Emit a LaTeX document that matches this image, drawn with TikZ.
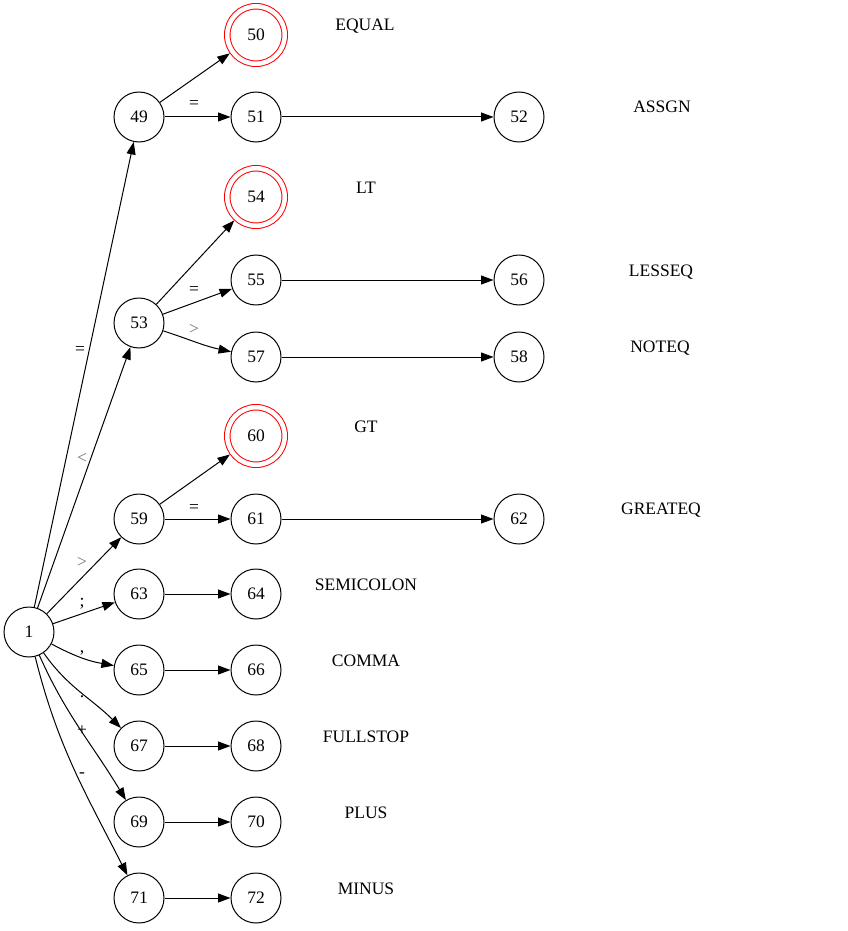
\documentclass[tikz,border=0pt]{standalone}
\usepackage{fontspec}
\setmainfont{Liberation Serif}
\usetikzlibrary{arrows.meta}

\tikzset{
    state/.style={circle, draw, line width=1pt, minimum size=50pt, inner sep=0pt, font=\fontsize{17.5}{20}\selectfont},
    accept/.style={state, draw=red, double=white, double distance=4.5pt, minimum size=57.5pt, outer sep=3.2pt},
    token/.style={anchor=base, inner sep=0pt, font=\fontsize{17.5}{20}\selectfont},
    elbl/.style={anchor=base, inner sep=0pt, font=\fontsize{17.5}{20}\selectfont},
    edge/.style={line width=1pt, -{Triangle[length=12.5pt,width=9pt]}}
}

\begin{document}
\begin{tikzpicture}[x=1pt, y=-1pt]
    \useasboundingbox (0,0) rectangle (847,931);

    % Start state
    \node[state] (n1) at (29,632) {1};

    % Draw = branch
    \node[state] (n49) at (139,117) {49};
    \node[accept] (n50) at (256,35) {50};
    \node[state] (n51) at (256,117) {51};
    \node[state] (n52) at (519,117) {52};
    \node[token] (t50) at (365,31) {EQUAL};
    \node[token] (t52) at (662,113) {ASSGN};
    \draw[edge] (n49) -- (n50);
    \draw[edge] (n49) -- (n51);
    \draw[edge] (n51) -- (n52);
    \node[elbl] (l51) at (194,109) {=};

    % Draw < branch
    \node[state] (n53) at (139,323) {53};
    \node[accept] (n54) at (256,197) {54};
    \node[state] (n55) at (256,280) {55};
    \node[state] (n56) at (519,280) {56};
    \node[state] (n57) at (256,357) {57};
    \node[state] (n58) at (519,357) {58};
    \node[token] (t54) at (366,193) {LT};
    \node[token] (t56) at (661,276) {LESSEQ};
    \node[token] (t58) at (660,352) {NOTEQ};
    \draw[edge] (n53) -- (n54);
    \draw[edge] (n53) -- (n55);
    \draw[edge] (n53) to[out=-18, in=168] (n57);
    \draw[edge] (n55) -- (n56);
    \draw[edge] (n57) -- (n58);
    \node[elbl] (l55) at (194,294) {=};
    \node[elbl, black!55] (l57) at (194,334) {>};

    % Draw > branch
    \node[state] (n59) at (139,519) {59};
    \node[accept] (n60) at (256,436) {60};
    \node[state] (n61) at (256,519) {61};
    \node[state] (n62) at (519,519) {62};
    \node[token] (t60) at (366,432) {GT};
    \node[token] (t62) at (661,514) {GREATEQ};
    \draw[edge] (n59) -- (n60);
    \draw[edge] (n59) -- (n61);
    \draw[edge] (n61) -- (n62);
    \node[elbl] (l61) at (194,512) {=};

    % Draw single character tokens
    \foreach \a/\b/\y/\tok in {63/64/594/SEMICOLON, 65/66/670/COMMA, 67/68/746/FULLSTOP, 69/70/822/PLUS, 71/72/898/MINUS} {
        \node[state] (n\a) at (139,\y) {\a};
        \node[state] (n\b) at (256,\y) {\b};
        \node[token] (t\b) at (366,\y-4) {\tok};
        \draw[edge] (n\a) -- (n\b);
    }

    % Draw edges out of the start state
    \draw[edge] (n1) -- (n49);
    \draw[edge] (n1) -- (n53);
    \draw[edge] (n1) -- (n59);
    \draw[edge] (n1) -- (n63);
    \draw[edge] (n1) to[out=-28, in=170] (n65);
    \draw[edge] (n1) to[out=-55, in=135] (n67);
    \draw[edge] (n1) to[out=-66, in=121] (n69);
    \draw[edge] (n1) to[out=-76, in=117] (n71);

    \node[elbl] (l49) at (80,354) {=};
    \node[elbl, black!55] (l53) at (82,463) {<};
    \node[elbl, black!55] (l59) at (82,567) {>};
    \node[elbl] (l63) at (82,606) {;};
    \node[elbl] (l65) at (82,652) {,};
    \node[elbl] (l67) at (82,697) {.};
    \node[elbl] (l69) at (82,735) {+};
    \node[elbl] (l71) at (82,777) {-};
\end{tikzpicture}
\end{document}
